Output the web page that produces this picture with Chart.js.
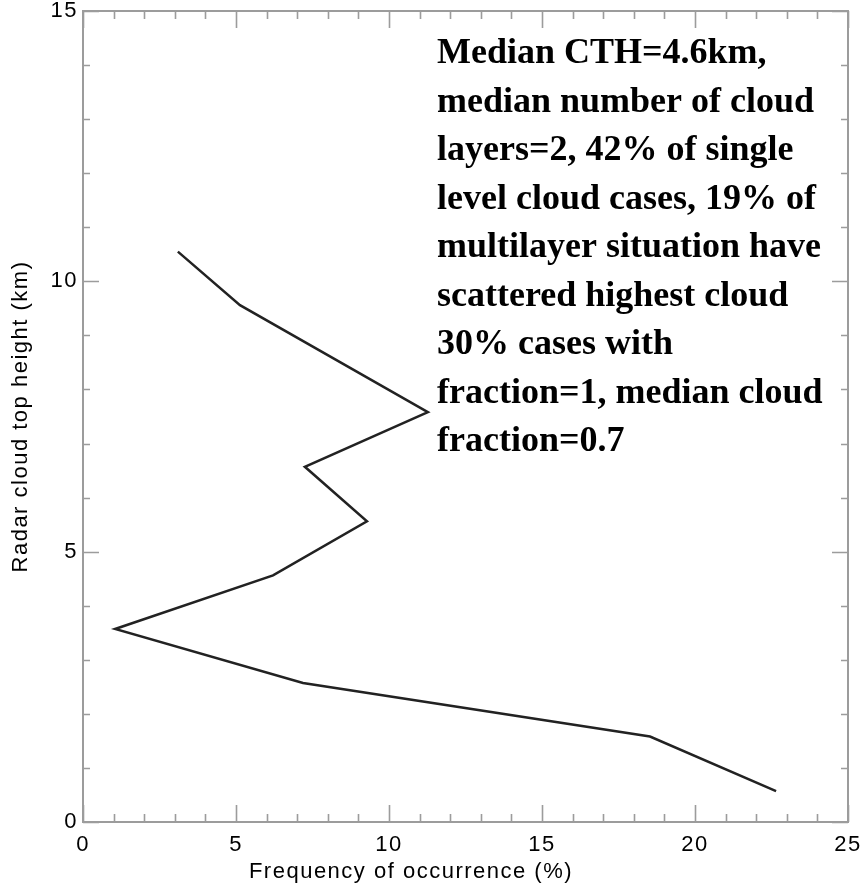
<!DOCTYPE html>
<html>
<head>
<meta charset="utf-8">
<title>Radar cloud top height</title>
<script src="https://cdn.jsdelivr.net/npm/chart.js@4/dist/chart.umd.min.js"></script>
<style>
  html, body { margin: 0; padding: 0; background: #ffffff; }
  #wrap { width: 865px; height: 886px; position: relative; }
</style>
</head>
<body>
<div id="wrap"><canvas id="chart" width="865" height="886"></canvas></div>
<script>
// Cloud top height bins (km) and how often each occurs (%)
const heights   = [0.57, 1.58, 2.57, 3.57, 4.56, 5.56, 6.57, 7.58, 9.56, 10.55];
const frequency = [22.65, 18.53, 7.19, 1.05, 6.21, 9.28, 7.25, 11.27, 5.13, 3.10];

// Axis tick labels
const xTickValues = [0, 5, 10, 15, 20, 25];
const yTickValues = [0, 5, 10, 15];

// Axis titles
const xTitle = 'Frequency of occurrence (%)';
const yTitle = 'Radar cloud top height (km)';

// Summary statistics printed inside the plot
const summaryLines = [
  "Median CTH=4.6km,",
  "median number of cloud",
  "layers=2, 42% of single",
  "level cloud cases, 19% of",
  "multilayer situation have",
  "scattered highest cloud",
  "30% cases with",
  "fraction=1, median cloud",
  "fraction=0.7"
];

const AXIS_GREY = '#9c9c9c';
const SANS = "'Liberation Sans', Arial, Helvetica, sans-serif";

const points = heights.map((h, i) => ({ x: frequency[i], y: h }));

// Letter spacing for the axis text, removed again before the data and notes are drawn
const spacingPlugin = {
  id: 'axisSpacing',
  beforeDraw(chart) { chart.ctx.letterSpacing = '1.5px'; },
  beforeDatasetsDraw(chart) { chart.ctx.letterSpacing = '0px'; }
};

// Closed frame with inward major/minor ticks on all four sides
const framePlugin = {
  id: 'frameTicks',
  afterDatasetsDraw(chart) {
    const { ctx, chartArea: a, scales: { x, y } } = chart;
    ctx.save();
    ctx.strokeStyle = AXIS_GREY;
    ctx.lineWidth = 2;
    ctx.beginPath();
    ctx.rect(a.left, a.top, a.right - a.left, a.bottom - a.top);
    ctx.stroke();
    ctx.lineWidth = 1.6;
    ctx.beginPath();
    for (let v = x.min; v <= x.max; v += 1) {
      const px = Math.round(x.getPixelForValue(v)) + 0.5;
      const len = (v % 5 === 0) ? 17 : 8;
      ctx.moveTo(px, a.bottom); ctx.lineTo(px, a.bottom - len);
      ctx.moveTo(px, a.top);    ctx.lineTo(px, a.top + len);
    }
    for (let v = y.min; v <= y.max; v += 1) {
      const py = Math.round(y.getPixelForValue(v)) + 0.5;
      const len = (v % 5 === 0) ? 16 : 7;
      ctx.moveTo(a.left, py);  ctx.lineTo(a.left + len, py);
      ctx.moveTo(a.right, py); ctx.lineTo(a.right - len, py);
    }
    ctx.stroke();
    ctx.restore();
  }
};

// Horizontal axis title, set a little left of the plot centre
const xTitlePlugin = {
  id: 'xTitle',
  afterDraw(chart, args, opts) {
    const { ctx } = chart;
    ctx.save();
    ctx.letterSpacing = '1.5px';
    ctx.fillStyle = '#000000';
    ctx.font = `22px ${SANS}`;
    ctx.textAlign = 'center';
    ctx.textBaseline = 'alphabetic';
    ctx.fillText(opts.text, opts.centerX, opts.baseline);
    ctx.restore();
  }
};

// Bold serif summary block in the upper right of the plot
const notesPlugin = {
  id: 'summaryNotes',
  afterDraw(chart, args, opts) {
    const { ctx } = chart;
    ctx.save();
    ctx.letterSpacing = '0px';
    ctx.fillStyle = '#000000';
    ctx.font = "bold 36px 'Liberation Serif', 'Times New Roman', serif";
    ctx.textBaseline = 'alphabetic';
    ctx.textAlign = 'left';
    opts.lines.forEach((line, i) => {
      ctx.fillText(line, opts.left, opts.firstBaseline + i * opts.lineGap);
    });
    ctx.restore();
  }
};

new Chart(document.getElementById('chart'), {
  type: 'line',
  data: {
    datasets: [{
      data: points,
      borderColor: '#222222',
      borderWidth: 2.5,
      pointRadius: 0,
      tension: 0,
      fill: false
    }]
  },
  options: {
    responsive: false,
    animation: false,
    events: [],
    layout: { padding: { top: 11, right: 17, left: 0, bottom: 0 } },
    plugins: {
      legend: { display: false },
      tooltip: { enabled: false },
      xTitle: { text: xTitle, centerX: 411, baseline: 878 },
      summaryNotes: { lines: summaryLines, left: 437, firstBaseline: 63, lineGap: 48.5 }
    },
    scales: {
      x: {
        type: 'linear',
        position: 'bottom',
        min: 0, max: 25,
        afterBuildTicks(scale) { scale.ticks = xTickValues.map(v => ({ value: v })); },
        afterFit(scale) { scale.height = 64; scale.paddingLeft = 0; scale.paddingRight = 0; },
        ticks: {
          color: '#000000',
          padding: 10,
          maxRotation: 0,
          font: { family: SANS, size: 22 }
        },
        grid: { drawOnChartArea: false, drawTicks: false },
        border: { display: true, color: AXIS_GREY, width: 2 },
        title: { display: false }
      },
      y: {
        type: 'linear',
        position: 'left',
        min: 0, max: 15,
        afterBuildTicks(scale) { scale.ticks = yTickValues.map(v => ({ value: v })); },
        afterFit(scale) { scale.width = 83; scale.paddingTop = 0; scale.paddingBottom = 0; },
        ticks: {
          color: '#000000',
          padding: 5,
          font: { family: SANS, size: 22 }
        },
        grid: { drawOnChartArea: false, drawTicks: false },
        border: { display: true, color: AXIS_GREY, width: 2 },
        title: {
          display: true,
          text: yTitle,
          color: '#000000',
          font: { family: SANS, size: 22 },
          padding: { top: 8, bottom: 0 }
        }
      }
    }
  },
  plugins: [spacingPlugin, framePlugin, xTitlePlugin, notesPlugin]
});
</script>
</body>
</html>
